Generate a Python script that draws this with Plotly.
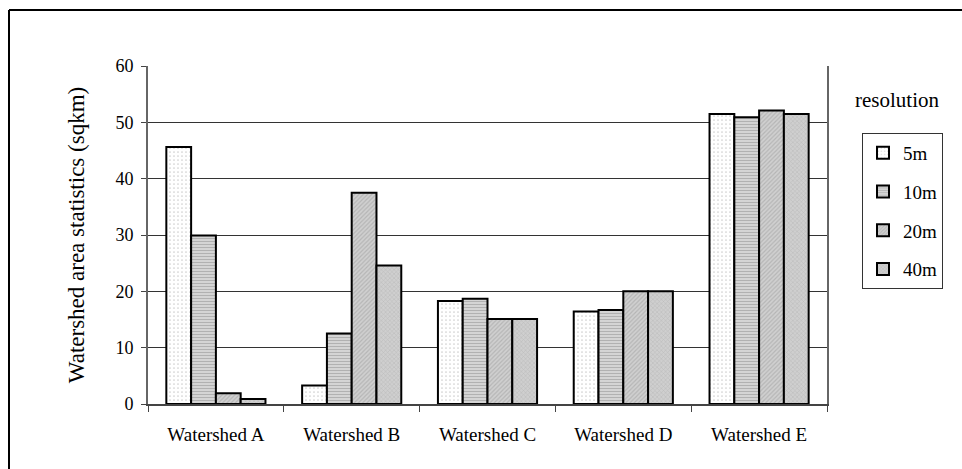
import plotly.graph_objects as go

categories = ["Watershed A", "Watershed B", "Watershed C", "Watershed D", "Watershed E"]
series_names = ["5m", "10m", "20m", "40m"]
v5 = [45.6, 3.3, 18.3, 16.4, 51.5]
v10 = [29.9, 12.5, 18.7, 16.7, 50.9]
v20 = [1.9, 37.5, 15.1, 20.0, 52.1]
v40 = [0.9, 24.6, 15.1, 20.0, 51.5]
y_ticks = [0, 10, 20, 30, 40, 50, 60]

values = [v5, v10, v20, v40]
styles = [
    dict(color="white", pattern=dict(shape=".", fgcolor="#a0a0a0", bgcolor="white", size=4, solidity=0.15)),
    dict(color="#c8c8c8", pattern=dict(shape="-", fgcolor="#8a8a8a", bgcolor="#d8d8d8", size=3, solidity=0.4)),
    dict(color="#c0c0c0", pattern=dict(shape="/", fgcolor="#9a9a9a", bgcolor="#d0d0d0", size=3, solidity=0.4)),
    dict(color="#c0c0c0", pattern=dict(shape="x", fgcolor="#a0a0a0", bgcolor="#cfcfcf", size=3, solidity=0.3)),
]

FONT = "Liberation Serif"

fig = go.Figure()
for i, (name, vals, st) in enumerate(zip(series_names, values, styles)):
    fig.add_trace(go.Bar(
        x=categories, y=vals, name=name, legendgroup=name,
        marker=dict(color=st["color"], pattern=st["pattern"],
                    line=dict(color="black", width=2)),
    ))

L, R, T, B = 148, 135, 66, 65
W, H = 962, 469
pw, ph = W - L - R, H - T - B
def px_x(p):
    return (p - L) / pw
def px_y(p):
    return (H - B - p) / ph

fig.update_layout(
    width=W, height=H,
    margin=dict(l=L, r=R, t=T, b=B),
    paper_bgcolor="white", plot_bgcolor="white",
    barmode="group", bargap=0.27, bargroupgap=0,
    font=dict(family=FONT, color="black"),
    showlegend=True,
    legend=dict(
        x=px_x(862), y=px_y(133), xanchor="left", yanchor="top",
        font=dict(family=FONT, size=19, color="black"),
        bordercolor="#333", borderwidth=1,
        traceorder="grouped", tracegroupgap=11,
        itemwidth=30,
    ),
    xaxis=dict(
        showline=True, linecolor="#444", linewidth=1.5,
        ticks="outside", tickson="boundaries", ticklen=6, tickcolor="#444",
        tickfont=dict(family=FONT, size=19, color="black"),
        ticklabelstandoff=12,
        showgrid=False,
    ),
    yaxis=dict(
        range=[0, 60], tickvals=y_ticks, ticks="outside", ticklen=5, tickcolor="#444",
        showline=True, linecolor="#666", linewidth=2, mirror=True,
        showgrid=True, gridcolor="#333", gridwidth=1,
        tickfont=dict(family=FONT, size=18, color="black"),
        ticklabelstandoff=4,
        title=dict(text="Watershed area statistics (sqkm)", font=dict(family=FONT, size=23, color="black"), standoff=24),
        zeroline=False,
    ),
    annotations=[dict(
        text="resolution", xref="paper", yref="paper",
        x=px_x(897), y=px_y(100), xanchor="center", yanchor="middle",
        showarrow=False, font=dict(family=FONT, size=21, color="black"),
    )],
    shapes=[
        dict(type="line", xref="paper", yref="paper", x0=px_x(9), x1=px_x(962), y0=px_y(10), y1=px_y(10),
             line=dict(color="black", width=2)),
        dict(type="line", xref="paper", yref="paper", x0=px_x(9), x1=px_x(9), y0=px_y(10), y1=px_y(469),
             line=dict(color="black", width=2)),
    ],
)

fig.write_html("out.html", config={"displayModeBar": False},
               post_script="document.body.style.margin='0';document.body.style.padding='0';")
